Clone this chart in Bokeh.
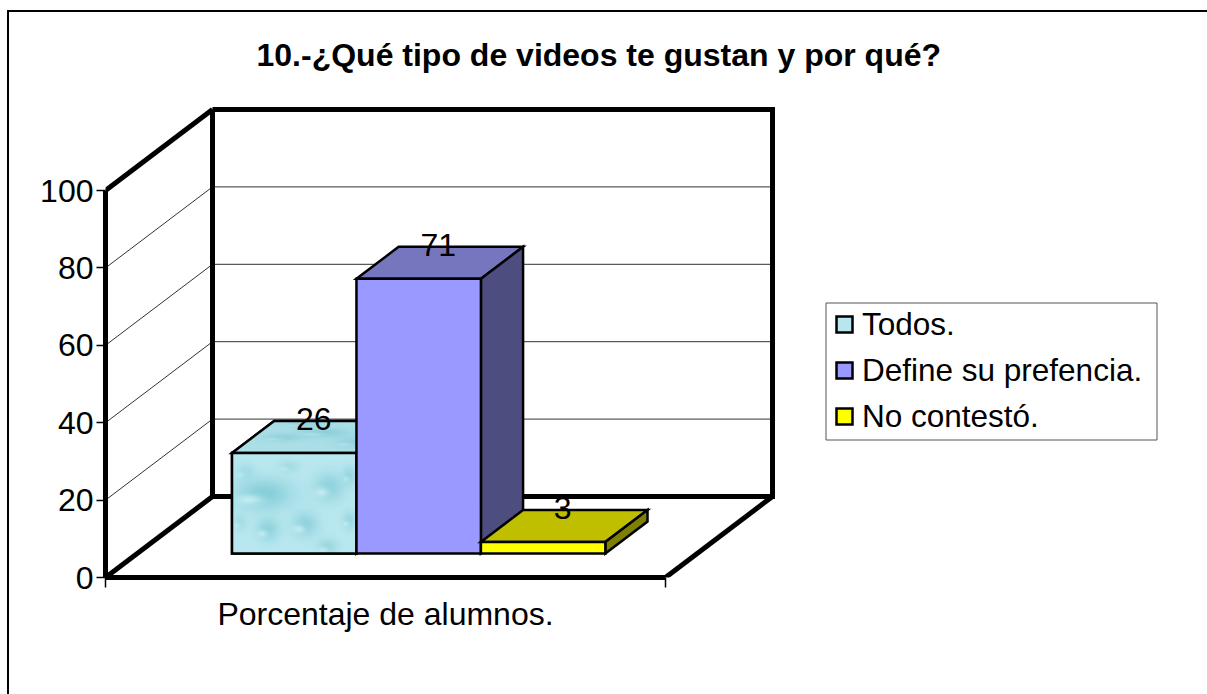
import numpy as np
from bokeh.plotting import figure
from bokeh.embed import file_html
from bokeh.resources import INLINE
from bokeh.core.properties import value
from bokeh.models import (Range1d, FixedTicker, Legend, LegendItem, BoxAnnotation)

title = "10.-¿Qué tipo de videos te gustan y por qué?"
category = "Porcentaje de alumnos."
series = ["Todos.", "Define su prefencia.", "No contestó."]
values = [26, 71, 3]
y_ticks = [0, 20, 40, 60, 80, 100]
front_colors = ["#B6E6EE", "#9999FF", "#FFFF00"]
top_colors = ["#A9DDE6", "#7676BF", "#BFBF00"]
side_colors = ["#7FB0B8", "#4D4D80", "#808000"]

FONT = "Liberation Sans"
FS = "32px"

# scale: pixels per unit on each axis of the projected chart
PX_X = 560.0
PX_Y = 3.87
DX = 107 / PX_X    # depth offset of the back wall, in x units
DY = 81 / PX_Y     # depth offset of the back wall, in value units
D0, D1 = 0.296, 0.69   # depth of bar front and back
BAR_W = 1 / 4.5
GAP = 0.75 * BAR_W + 0.0027


def proj(x, v, d):
    return x + d * DX, v + d * DY


p = figure(width=1207, height=694, output_backend="svg", toolbar_location=None,
           x_range=Range1d(0, 1102 / PX_X), y_range=Range1d(0, 477 / PX_Y),
           min_border_left=105, min_border_right=0, min_border_top=100, min_border_bottom=117,
           background_fill_color="white", border_fill_color=None, outline_line_color=None)
p.grid.visible = False
# outer frame of the chart: only its left and top sides fall inside the picture
p.styles = {"background": "linear-gradient(black,black) 7px 10px / 2px 684px no-repeat, "
                          "linear-gradient(black,black) 7px 10px / 1200px 2px no-repeat, white"}

# title
p.title.text = title
p.title.align = "left"
p.title.offset = 151
p.title.text_font = FONT
p.title.text_font_style = "bold"
p.title.text_font_size = FS
p.title.text_color = "black"
p.title.standoff = 56

# axes
ya = p.yaxis[0]
ya.ticker = FixedTicker(ticks=y_ticks)
ya.bounds = (0, 100)
ya.axis_line_width = 5
ya.axis_line_color = "black"
ya.major_tick_in = 0
ya.major_tick_out = 9
ya.major_tick_line_width = 1.5
ya.major_tick_line_color = "black"
ya.minor_tick_line_color = None
ya.major_label_standoff = 3
ya.major_label_text_font = FONT
ya.major_label_text_font_size = FS
ya.major_label_text_color = "black"

xa = p.xaxis[0]
xa.ticker = FixedTicker(ticks=[0.5], minor_ticks=[0, 1])
xa.major_label_overrides = {0.5: category}
xa.bounds = (0, 1)
xa.axis_line_width = 5
xa.axis_line_color = "black"
xa.major_tick_line_color = None
xa.minor_tick_in = 0
xa.minor_tick_out = 10
xa.minor_tick_line_width = 1.5
xa.minor_tick_line_color = "black"
xa.major_label_standoff = 8
xa.major_label_text_font = FONT
xa.major_label_text_font_size = FS
xa.major_label_text_color = "black"

# gridlines on the left wall and the back wall
for t in y_ticks[1:-1]:
    x0, y0 = proj(0, t, 0)
    x1, y1 = proj(0, t, 1)
    x2, y2 = proj(1, t, 1)
    p.line([x0, x1, x2], [y0, y1, y2], line_color="#333333", line_width=1)

# walls and floor
wall = dict(line_color="black", line_width=5, line_join="miter")
bx0, by0 = proj(0, 0, 1)
bx1, by1 = proj(1, 100, 1)
lx, ly = proj(0, 100, 0)
p.line([lx, bx0], [ly, by1], **wall)
p.line([bx0, bx1, bx1, bx0, bx0], [by1, by1, by0, by0, by1], **wall)
p.line([0, bx0], [0, by0], **wall)
p.line([1, bx1], [0, by0], **wall)


def drops_texture(w, h, spots, base):
    yy, xx = np.mgrid[0:h, 0:w]
    img = np.array(base, dtype=float) * np.ones((h, w, 3))
    for (cx, cy, rx, ry, amp) in spots:
        gx = (xx - cx * w) / (rx * w)
        gy = (yy - cy * h) / (ry * h)
        dark = np.exp(-(gx ** 2 + gy ** 2))
        img += dark[..., None] * np.array([-52, -26, -24]) * amp
        hx = (xx - (cx - 0.45 * rx) * w) / (0.45 * rx * w)
        hy = (yy - (cy - 0.35 * ry) * h) / (0.3 * ry * h)
        img += np.exp(-(hx ** 2 + hy ** 2))[..., None] * np.array([45, 22, 18]) * amp
    return np.clip(img, 0, 255)


def to_rgba(rgb, mask=None):
    h, w = rgb.shape[:2]
    out = np.zeros((h, w), dtype=np.uint32)
    v = out.view(dtype=np.uint8).reshape((h, w, 4))
    v[..., :3] = rgb.astype(np.uint8)
    v[..., 3] = 255 if mask is None else mask.astype(np.uint8) * 255
    return out


# image rows run bottom-up, so cy is measured from the bottom of the face
front_spots = [(0.25, 0.58, 0.22, 0.15, 1.0), (0.77, 0.65, 0.12, 0.14, 0.8),
               (0.28, 0.23, 0.09, 0.11, 0.8), (0.58, 0.28, 0.10, 0.12, 0.8),
               (0.94, 0.76, 0.06, 0.09, 0.6), (0.94, 0.32, 0.06, 0.09, 0.6),
               (0.76, 0.06, 0.08, 0.08, 0.6), (0.10, 0.80, 0.07, 0.08, 0.4),
               (0.45, 0.85, 0.08, 0.06, 0.4), (0.06, 0.30, 0.05, 0.08, 0.4)]
top_spots = [(0.30, 0.45, 0.12, 0.12, 0.5), (0.55, 0.60, 0.14, 0.14, 0.6),
             (0.72, 0.30, 0.10, 0.16, 0.5), (0.42, 0.85, 0.10, 0.10, 0.4)]

legend_items = []
for i, (name, val) in enumerate(zip(series, values)):
    left = GAP + i * BAR_W
    right = left + BAR_W
    fx0, fy0 = proj(left, 0, D0)
    fx1, fy1 = proj(right, val, D0)
    kx0, ky0 = proj(left, 0, D1)
    kx1, ky1 = proj(right, val, D1)
    edge = dict(line_color="black", line_width=2.5, line_join="miter")

    # top face
    p.patch([fx0, fx1, kx1, kx0], [fy1, fy1, ky1, ky1], fill_color=top_colors[i], **edge)
    if i == 0:
        tw, th = 168, 32
        tex = drops_texture(tw, th, top_spots, (172, 223, 232))
        yy, xx = np.mgrid[0:th, 0:tw]
        shift = yy * 43 / 32
        mask = (xx >= shift) & (xx < shift + 125)
        p.image_rgba(image=[to_rgba(tex, mask)], x=[fx0], y=[fy1],
                     dw=[kx1 - fx0], dh=[ky1 - fy1])
        p.line([fx0, kx0, fx1 + (kx0 - fx0)], [fy1, ky1, ky1], **edge)
    # side face
    p.patch([fx1, kx1, kx1, fx1], [fy0, ky0, ky1, fy1], fill_color=side_colors[i], **edge)
    # front face
    r = p.quad(left=fx0, right=fx1, bottom=fy0, top=fy1, fill_color=front_colors[i], **edge)
    if i == 0:
        tex = drops_texture(125, 101, front_spots, (186, 232, 240))
        p.image_rgba(image=[to_rgba(tex)], x=[fx0], y=[fy0], dw=[fx1 - fx0], dh=[fy1 - fy0])
        p.quad(left=fx0, right=fx1, bottom=fy0, top=fy1, fill_color=None, **edge)
    legend_items.append(LegendItem(label=value(name), renderers=[r]))

# data labels
for i, val in enumerate(values):
    cx = GAP - 0.0027 + (i + 0.5) * BAR_W
    lbx, lby = proj(cx, val, D1)
    p.text([lbx - 0.5 * (D1 - D0) * DX], [lby + 0.4], text=[str(val)], text_font=value(FONT),
           text_font_size=FS, text_color="black", text_align="center", text_baseline="middle")

# legend box
p.add_layout(BoxAnnotation(left=825.5, right=1156.5, top=302.5, bottom=439.5,
                           left_units="canvas", right_units="canvas",
                           top_units="canvas", bottom_units="canvas",
                           fill_color="white", fill_alpha=1, line_color="#555555", line_alpha=1,
                           line_width=1, level="overlay"))
legend = Legend(items=legend_items, location=(729, 138), margin=0, padding=0, spacing=0,
                border_line_color=None, background_fill_alpha=0,
                glyph_width=20, glyph_height=20, label_height=46, label_standoff=8,
                label_text_font=FONT, label_text_font_size="31.5px", label_text_color="black",
                level="overlay")
p.add_layout(legend)

open("out.html", "w").write(file_html(p, INLINE))
